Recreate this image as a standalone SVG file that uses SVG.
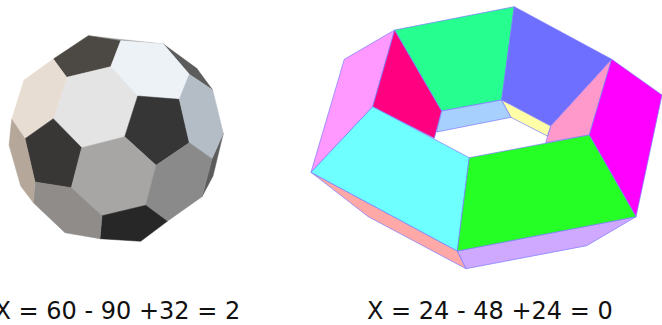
<svg xmlns="http://www.w3.org/2000/svg" width="662" height="325" viewBox="0 0 662 325">
<style>
.t{font-family:"DejaVu Sans",sans-serif;font-size:24px;fill:#111}
.b polygon{stroke-width:.5;stroke-linejoin:round}
.e polygon{stroke:#7a7aff;stroke-width:.7;stroke-linejoin:round}
</style>
<rect width="662" height="325" fill="#fff"/>
<g id="ball" class="b">
<polygon points="88.3,35.7 163.3,44 120.7,40.7" fill="#9a9a9a" stroke="#bbb"/>
<polygon points="163.3,44 189.3,74.3 212.7,90 196.7,68.3" fill="#5c5c5c" stroke="#5c5c5c"/>
<polygon points="223.3,133.3 212,158.7 202,196.7 213,176" fill="#5c5c5c" stroke="#5c5c5c"/>
<polygon points="88.3,35.7 120.7,40.7 110.7,66.7 66.7,77.3 53.3,59" fill="#4c4844" stroke="#4c4844"/>
<polygon points="120.7,40.7 163.3,44 189.3,74.3 179.3,99.3 137.7,96 110.7,66.7" fill="#edf2f7" stroke="#edf2f7"/>
<polygon points="110.7,66.7 137.7,96 124.7,136.7 81.7,147.7 53.3,118.7 66.7,77.3" fill="#e4e4e4" stroke="#e4e4e4"/>
<polygon points="53.3,59 66.7,77.3 53.3,118.7 25,138.7 11.7,119.3 24,80" fill="#e8ddd2" stroke="#e8ddd2"/>
<polygon points="137.7,96 179.3,99.3 189.3,142.7 156,165.3 124.7,136.7" fill="#363636" stroke="#363636"/>
<polygon points="189.3,74.3 212.7,90 223.3,133.3 212,158.7 189.3,142.7 179.3,99.3" fill="#b4bcc6" stroke="#b4bcc6"/>
<polygon points="53.3,118.7 81.7,147.7 71.3,187.7 35,182 25,138.7" fill="#383736" stroke="#383736"/>
<polygon points="81.7,147.7 124.7,136.7 156,165.3 145.7,205.3 102,215.7 71.3,187.7" fill="#a7a6a4" stroke="#a7a6a4"/>
<polygon points="156,165.3 189.3,142.7 212,158.7 202,196.7 167.3,221.3 145.7,205.3" fill="#8a8a8a" stroke="#8a8a8a"/>
<polygon points="102,215.7 145.7,205.3 167.3,221.3 140.7,241.3 100,238.7" fill="#272727" stroke="#272727"/>
<polygon points="35,182 71.3,187.7 102,215.7 100,238.7 65,232.7 33.3,202.7" fill="#8f8c89" stroke="#8f8c89"/>
<polygon points="11.7,119.3 25,138.7 35,182 33.3,202.7 20.7,186 9,145" fill="#b5a89a" stroke="#b5a89a"/>
</g>
<g id="torus" class="e">
<polygon points="344.3,59.3 394.7,30 372.7,106.7 311,172.3" fill="#ff99ff"/>
<polygon points="394.7,30 441.7,111 434.3,138.3 372.7,106.7" fill="#ff0080"/>
<polygon points="394.7,30 514.3,6.7 501.7,100 441.7,111" fill="#26ff8f"/>
<polygon points="514.3,6.7 611.7,59.3 550.7,126 501.7,100" fill="#6e6eff"/>
<polygon points="611.7,59.3 589.3,135 545.7,142.7 550.7,126" fill="#ff99cc"/>
<polygon points="611.7,59.3 662,95 636,216.7 589.3,135" fill="#ff00ff"/>
<polygon points="441.7,111 501.7,100 511,117.3 436.7,132" fill="#a8d0ff"/>
<polygon points="501.7,100 550.7,126 547.3,136 511,117.3" fill="#ffffa8"/>
<polygon points="311,172.3 368.3,216.7 466,268.7 457.3,251" fill="#ffa8a8"/>
<polygon points="457.3,251 636,216.7 586.7,245.7 466,268.7" fill="#cfa8ff"/>
<polygon points="372.7,106.7 469.3,157.7 457.3,251 311,172.3" fill="#6effff"/>
<polygon points="469.3,157.7 589.3,135 636,216.7 457.3,251" fill="#26ff26"/>
</g>
<text class="t" x="-5.5" y="319.3">X = 60 - 90 +32 = 2</text>
<text class="t" x="367" y="319.3">X = 24 - 48 +24 = 0</text>
</svg>
